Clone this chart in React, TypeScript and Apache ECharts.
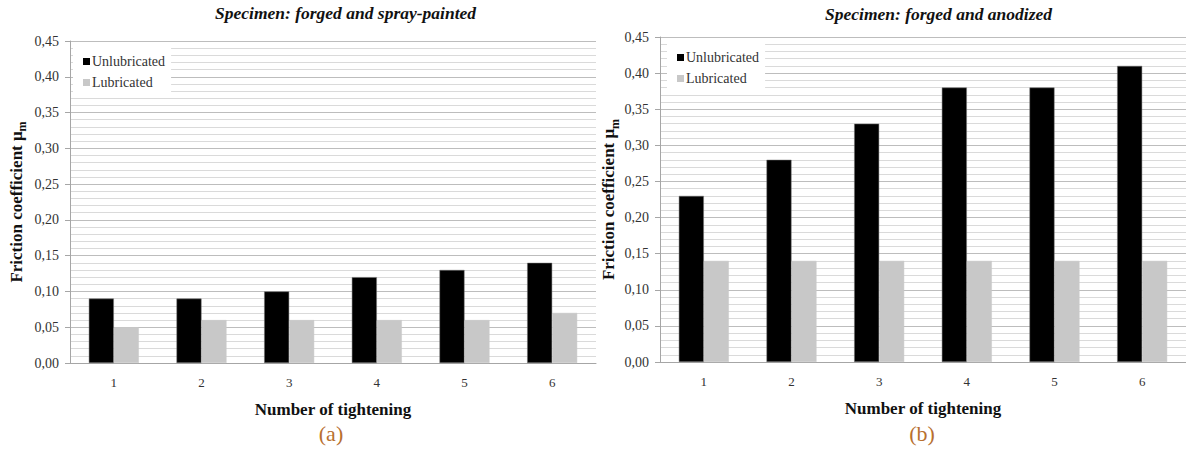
import React, { useEffect, useRef } from "react";
import * as echarts from "echarts";

const categories = ["1", "2", "3", "4", "5", "6"];
const leftUnlubricated = [0.09, 0.09, 0.1, 0.12, 0.13, 0.14];
const leftLubricated = [0.05, 0.06, 0.06, 0.06, 0.06, 0.07];
const rightUnlubricated = [0.23, 0.28, 0.33, 0.38, 0.38, 0.41];
const rightLubricated = [0.14, 0.14, 0.14, 0.14, 0.14, 0.14];
const titles = ["Specimen: forged and spray-painted", "Specimen: forged and anodized"];
const panelLabels = ["(a)", "(b)"];
const seriesNames = ["Unlubricated", "Lubricated"];

const SERIF = "Liberation Serif";

export default function App() {
  const ref = useRef<HTMLDivElement>(null);
  useEffect(() => {
    if (!ref.current) return;
    const chart = echarts.init(ref.current, undefined, { renderer: "svg" });
    const grids = [
      { left: 70, top: 41, width: 526, height: 322 },
      { left: 660, top: 37, width: 526, height: 325 },
    ];
    const yAxis = (gi: number, gap: number) => ({
      type: "value",
      gridIndex: gi,
      min: 0,
      max: 0.45,
      interval: 0.05,
      name: "{a|Friction coefficient μ}{b|m}",
      nameLocation: "middle",
      nameGap: gap,
      nameRotate: 90,
      nameTextStyle: {
        rich: {
          a: { fontFamily: SERIF, fontSize: 17, fontWeight: "bold", color: "#111", lineHeight: 18 },
          b: { fontFamily: SERIF, fontSize: 12, fontWeight: "bold", color: "#111", padding: [12, 0, 0, 0] },
        },
      },
      axisLine: { show: true, lineStyle: { color: "#a6a6a6" } },
      axisTick: { show: true, length: 5, lineStyle: { color: "#a6a6a6" } },
      axisLabel: {
        fontFamily: SERIF,
        fontSize: 14,
        color: "#333",
        margin: 11,
        formatter: (v: number) => v.toFixed(2).replace(".", ","),
      },
      splitLine: { show: true, lineStyle: { color: "#bdbdbd", width: 1 } },
      minorTick: { show: false, splitNumber: 5 },
      minorSplitLine: { show: true, lineStyle: { color: "#dadada", width: 1 } },
    });
    const xAxis = (gi: number) => ({
      type: "category",
      gridIndex: gi,
      data: categories,
      name: "Number of tightening",
      nameLocation: "middle",
      nameGap: 38,
      nameTextStyle: { fontFamily: SERIF, fontSize: 17, fontWeight: "bold", color: "#111" },
      axisLine: { show: true, lineStyle: { color: "#a6a6a6" } },
      axisTick: { show: false },
      axisLabel: { fontFamily: SERIF, fontSize: 13, color: "#333", margin: 13 },
      splitLine: { show: false },
    });
    const bar = (name: string, gi: number, data: number[], color: string) => ({
      type: "bar",
      name,
      xAxisIndex: gi,
      yAxisIndex: gi,
      data,
      barWidth: 25,
      barGap: "0%",
      itemStyle: { color, borderColor: color === "#000000" ? "#777" : "#c8c8c8", borderWidth: 0.5 },
    });
    const legend = (left: number, top: number) => ({
      orient: "vertical",
      left,
      top,
      data: seriesNames,
      icon: "rect",
      itemWidth: 7,
      itemHeight: 7,
      itemGap: 6,
      padding: [7, 6, 8, 10],
      backgroundColor: "#ffffff",
      itemStyle: { borderWidth: 0 },
      textStyle: { fontFamily: SERIF, fontSize: 14, color: "#333", lineHeight: 15, padding: [0, 0, 0, -3] },
      selectedMode: false,
    });
    chart.setOption({
      animation: false,
      backgroundColor: "#ffffff",
      grid: grids,
      xAxis: [xAxis(0), xAxis(1)],
      yAxis: [yAxis(0, 42), yAxis(1, 39)],
      legend: [legend(73, 47), legend(667, 43)],
      series: [
        bar(seriesNames[0], 0, leftUnlubricated, "#000000"),
        bar(seriesNames[1], 0, leftLubricated, "#c8c8c8"),
        bar(seriesNames[0], 1, rightUnlubricated, "#000000"),
        bar(seriesNames[1], 1, rightLubricated, "#c8c8c8"),
      ],
      graphic: [
        {
          type: "text",
          x: 215,
          y: 13,
          style: { text: titles[0], fontFamily: SERIF, fontStyle: "italic", fontWeight: "bold", fontSize: 17.5, fill: "#111", textAlign: "left", textVerticalAlign: "middle" },
        },
        {
          type: "text",
          x: 825,
          y: 14,
          style: { text: titles[1], fontFamily: SERIF, fontStyle: "italic", fontWeight: "bold", fontSize: 17.5, fill: "#111", textAlign: "left", textVerticalAlign: "middle" },
        },
        {
          type: "text",
          x: 331,
          y: 433,
          style: { text: panelLabels[0], fontFamily: SERIF, fontSize: 22, fill: "#b8702f", textAlign: "center", textVerticalAlign: "middle" },
        },
        {
          type: "text",
          x: 922,
          y: 433,
          style: { text: panelLabels[1], fontFamily: SERIF, fontSize: 22, fill: "#b8702f", textAlign: "center", textVerticalAlign: "middle" },
        },
      ],
    });
    return () => chart.dispose();
  }, []);
  return (
    <div
      ref={ref}
      style={{ position: "fixed", left: 0, top: 0, width: 1186, height: 452, background: "#fff" }}
    />
  );
}
